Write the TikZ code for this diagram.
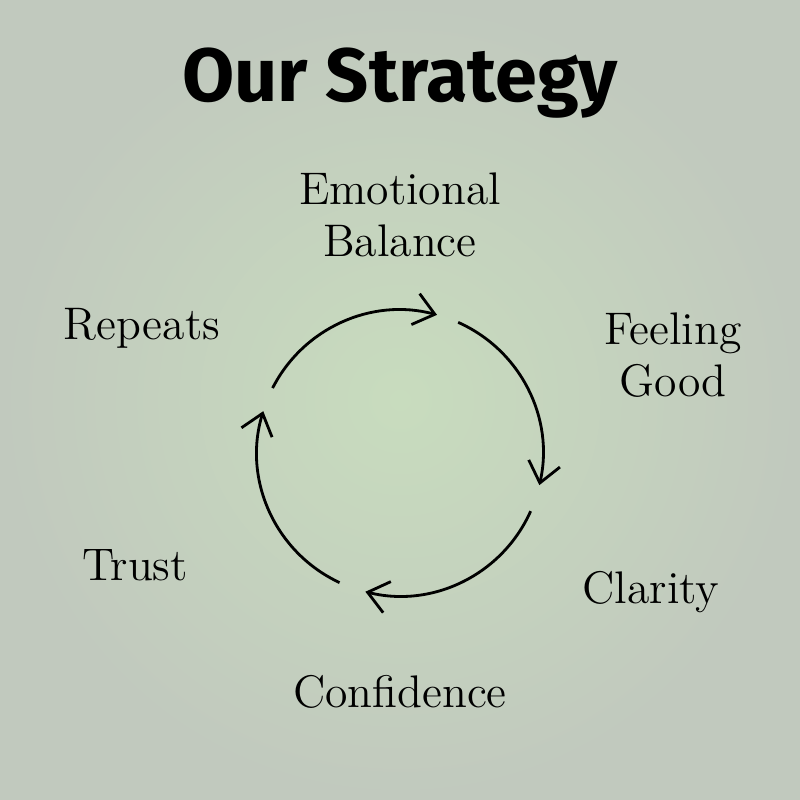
\documentclass[tikz,border=0pt]{standalone}
\usepackage{fontspec}
\newfontfamily\titlefont{Fira Sans}
\usetikzlibrary{arrows.meta}
\definecolor{bgin}{RGB}{200,220,190}
\definecolor{bgout}{RGB}{193,201,190}
\tikzset{label/.style={align=center, font=\fontsize{13}{15}\selectfont},
         cycle/.style={line width=0.8pt, -{Straight Barb[length=2mm,width=3.2mm]}}}
\begin{document}
\begin{tikzpicture}
        %background
        \shade[inner color=bgin, outer color=bgout] (0,0) rectangle (8,8);
        \useasboundingbox (0,0) rectangle (8,8);
        
        %Title
        \node (title) at (4,7.17) {\titlefont\bfseries\fontsize{21.5}{24}\selectfont Our Strategy};
        
        %Labels
        \node (balance) [label] at (4,5.85) {Emotional\\Balance};
        \node (good) [label] at (6.73,4.45) {Feeling\\Good};
        \node (clarity) [label] at (6.51,2.08) {Clarity};
        \node (confidence) [label] at (4,1.08) {Confidence};
        \node (trust) [label] at (1.35,2.35) {Trust};
        \node (repeats) [label] at (1.42,4.72) {Repeats};
        
        %Cycle
        \coordinate (c) at (4,3.47);
        \draw [cycle] ([shift={(153:1.43)}]c) arc (153:75:1.43);
        \draw [cycle] ([shift={(66:1.43)}]c) arc (66:-13:1.43);
        \draw [cycle] ([shift={(-24:1.43)}]c) arc (-24:-104:1.43);
        \draw [cycle] ([shift={(-115:1.43)}]c) arc (-115:-197:1.43);
\end{tikzpicture}
\end{document}
